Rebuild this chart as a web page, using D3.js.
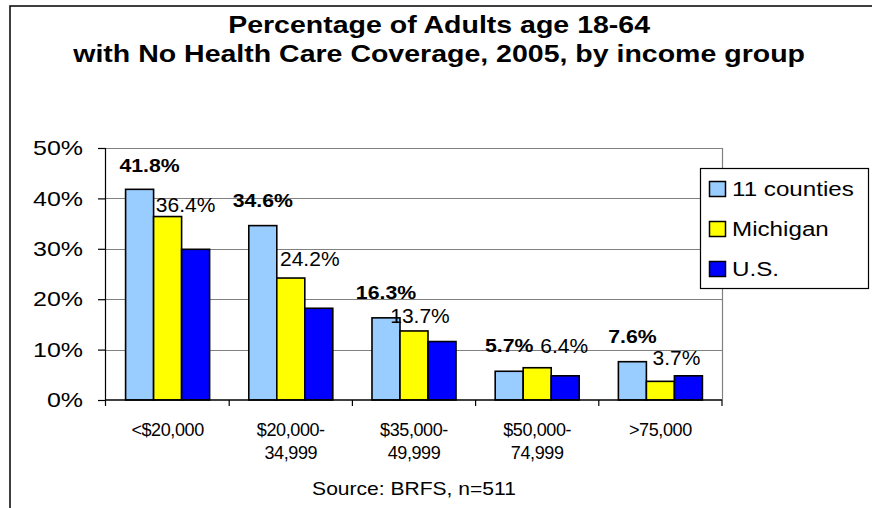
<!DOCTYPE html>
<html>
<head>
<meta charset="utf-8">
<script src="https://cdn.jsdelivr.net/npm/d3@7"></script>
<style>
    html, body { margin: 0; padding: 0; background: #fff; }
    svg { display: block; font-family: "Liberation Sans", Arial, sans-serif; }
    .wide { transform-box: fill-box; }
</style>
</head>
<body>
<div id="chart"></div>
<script>
"use strict";

// data
var categories = ["<$20,000", "$20,000-\n34,999", "$35,000-\n49,999", "$50,000-\n74,999", ">75,000"];
var seriesNames = ["11 counties", "Michigan", "U.S."];
var counties = [41.8, 34.6, 16.3, 5.7, 7.6];
var michigan = [36.4, 24.2, 13.7, 6.4, 3.7];
var us = [29.9, 18.2, 11.6, 4.8, 4.8];
var yTicks = [0, 10, 20, 30, 40, 50];
var colors = ["#99CCFF", "#FFFF00", "#0000FF"];

// hand-moved labels: [dx from bar centre, dy from bar top]
var countiesNudge = [[10, -17], [0, -19], [0, -19], [0, -19], [0, -19]];
var michiganNudge = [[18, -5], [19, -12], [6, -8], [27, -15], [16, -16]];

var W = 872, H = 508,
    margin = { top: 148, right: 150, bottom: 108, left: 106 },
    plotW = W - margin.left - margin.right,
    plotH = H - margin.top - margin.bottom;

var svg = d3.select("#chart")
    .append("svg")
    .attr("width", W)
    .attr("height", H);

// the picture's fonts run wider than Arial, so stretch sideways
var stretch = function (sel, k, origin) {
    sel.attr("class", "wide")
        .style("transform-origin", origin)
        .style("transform", "scaleX(" + k + ")");
};

// outer frame, cut off at right and bottom
svg.append("rect")
    .attr("x", 10).attr("y", 6)
    .attr("width", W + 20).attr("height", H + 20)
    .attr("fill", "none")
    .attr("stroke", "#000")
    .attr("stroke-width", 1.5);

// title
var title = svg.append("text")
    .attr("text-anchor", "middle")
    .attr("font-weight", "bold")
    .attr("font-size", 23)
    .attr("fill", "#000");
title.append("tspan").attr("x", 439).attr("y", 33).text("Percentage of Adults age 18-64");
title.append("tspan").attr("x", 439).attr("y", 62).text("with No Health Care Coverage, 2005, by income group");
stretch(title, 1.24, "center");

var g = svg.append("g")
    .attr("transform", "translate(" + margin.left + "," + margin.top + ")");

var y = d3.scaleLinear().domain([0, 50]).range([plotH, 0]);
var x0 = d3.scaleBand().domain(d3.range(categories.length)).range([0, plotW]);
var bw = x0.bandwidth();
var x1 = d3.scaleBand().domain(d3.range(seriesNames.length))
    .range([bw * 0.159, bw * 0.841]);

// grid lines
g.selectAll("line.grid")
    .data(yTicks.filter(function (d) { return d > 0; }))
    .enter()
    .append("line")
    .attr("x1", 0)
    .attr("x2", plotW)
    .attr("y1", function (d) { return Math.round(y(d)) + 0.5; })
    .attr("y2", function (d) { return Math.round(y(d)) + 0.5; })
    .attr("stroke", "#808080")
    .attr("stroke-width", 1.2);

// right border of plot area
g.append("line")
    .attr("x1", plotW + 0.5).attr("x2", plotW + 0.5)
    .attr("y1", 0).attr("y2", plotH)
    .attr("stroke", "#808080")
    .attr("stroke-width", 1.2);

// bars
var seriesData = [counties, michigan, us];
var groups = g.selectAll("g.group")
    .data(categories)
    .enter()
    .append("g")
    .attr("transform", function (d, i) { return "translate(" + x0(i) + ",0)"; });

groups.selectAll("rect")
    .data(function (d, i) { return seriesData.map(function (s, j) { return { s: j, v: s[i] }; }); })
    .enter()
    .append("rect")
    .attr("x", function (d) { return x1(d.s); })
    .attr("y", function (d) { return y(d.v); })
    .attr("width", x1.bandwidth())
    .attr("height", function (d) { return plotH - y(d.v); })
    .attr("fill", function (d) { return colors[d.s]; })
    .attr("stroke", "#000")
    .attr("stroke-width", 1.6);

// y axis
var yAxis = g.append("g")
    .call(d3.axisLeft(y).tickValues(yTicks).tickSize(8).tickFormat(function (d) { return d + "%"; }));
yAxis.select(".domain").attr("stroke", "#000").attr("stroke-width", 1.2).attr("d", "M-0.5," + (plotH + 6) + "V0");
yAxis.selectAll(".tick line").attr("stroke", "#000").attr("stroke-width", 1.2);
yAxis.selectAll(".tick text")
    .attr("x", -23)
    .attr("font-size", 21)
    .attr("font-family", "Liberation Sans, Arial, sans-serif")
    .attr("fill", "#000");
stretch(yAxis.selectAll(".tick text"), 1.19, "right center");

// x axis, ticks sit on category boundaries
var xAxis = g.append("g").attr("transform", "translate(0," + plotH + ")");
xAxis.append("line")
    .attr("x1", 0).attr("x2", plotW)
    .attr("stroke", "#000").attr("stroke-width", 1.6);
xAxis.selectAll("line.tick")
    .data(d3.range(1, categories.length + 1))
    .enter()
    .append("line")
    .attr("x1", function (d) { return d * bw; })
    .attr("x2", function (d) { return d * bw; })
    .attr("y1", 0).attr("y2", 6)
    .attr("stroke", "#000").attr("stroke-width", 1.2);

var catText = xAxis.selectAll("text.cat")
    .data(categories)
    .enter()
    .append("text")
    .attr("text-anchor", "middle")
    .attr("font-size", 18)
    .attr("letter-spacing", -0.4)
    .attr("fill", "#000");
catText.each(function (d, i) {
    var t = d3.select(this);
    d.split("\n").forEach(function (line, k) {
        t.append("tspan")
            .attr("x", x0(i) + bw / 2)
            .attr("y", 36 + k * 22.6)
            .text(line);
    });
});

// data labels
var fmt = function (v) { return v.toFixed(1) + "%"; };

var boldLabels = groups.append("text")
    .attr("x", function (d, i) { return x1(0) + x1.bandwidth() / 2 + countiesNudge[i][0]; })
    .attr("y", function (d, i) { return y(counties[i]) + countiesNudge[i][1]; })
    .attr("text-anchor", "middle")
    .attr("font-weight", "bold")
    .attr("font-size", 19)
    .attr("fill", "#000")
    .text(function (d, i) { return fmt(counties[i]); });
stretch(boldLabels, 1.12, "center");

groups.append("text")
    .attr("x", function (d, i) { return x1(1) + x1.bandwidth() / 2 + michiganNudge[i][0]; })
    .attr("y", function (d, i) { return y(michigan[i]) + michiganNudge[i][1]; })
    .attr("text-anchor", "middle")
    .attr("font-size", 21)
    .attr("fill", "#000")
    .text(function (d, i) { return fmt(michigan[i]); });

// legend
var legend = svg.append("g").attr("transform", "translate(700,168)");
legend.append("rect")
    .attr("x", 0.5).attr("y", 0.5)
    .attr("width", 168).attr("height", 120)
    .attr("fill", "#fff")
    .attr("stroke", "#000")
    .attr("stroke-width", 1.2);

var items = legend.selectAll("g.item")
    .data(seriesNames)
    .enter()
    .append("g")
    .attr("transform", function (d, i) { return "translate(0," + (21 + i * 40) + ")"; });
items.append("rect")
    .attr("x", 9.5).attr("y", -7.5)
    .attr("width", 16).attr("height", 15)
    .attr("fill", function (d, i) { return colors[i]; })
    .attr("stroke", "#000")
    .attr("stroke-width", 1.5);
var legText = items.append("text")
    .attr("x", 32)
    .attr("y", 7)
    .attr("font-size", 20)
    .attr("fill", "#000")
    .text(function (d) { return d; });
stretch(legText, 1.21, "left center");

// source note
var src = svg.append("text")
    .attr("x", margin.left + plotW / 2)
    .attr("y", 495)
    .attr("text-anchor", "middle")
    .attr("font-size", 18)
    .attr("fill", "#000")
    .text("Source: BRFS, n=511");
stretch(src, 1.17, "center");
</script>
</body>
</html>
